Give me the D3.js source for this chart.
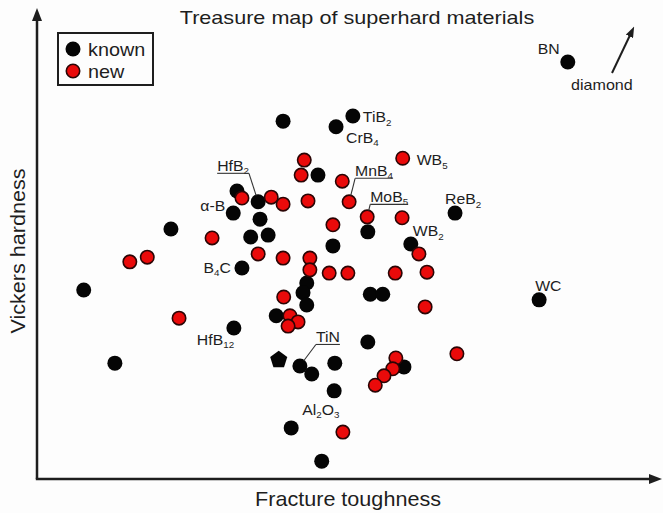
<!DOCTYPE html>
<html>
<head>
<meta charset="utf-8">
<script src="https://cdn.jsdelivr.net/npm/d3@7"></script>
<style>
body { margin: 0; background: #fdfdfd; }
svg { display: block; font-family: "Liberation Sans", Arial, sans-serif; }
</style>
</head>
<body>
<svg id="chart" width="663" height="513"></svg>
<script>
// values in arbitrary units (0-100 on both axes, no ticks in the original)
const knownX = [85.2, 50.7, 48.0, 39.5, 67.1, 80.6, 32.1, 35.5, 31.5, 35.8, 34.3, 37.1, 21.5, 45.1, 47.5, 53.1, 60.0, 32.9,
    43.3, 42.7, 43.3, 38.4, 53.5, 55.5, 7.5, 31.6, 12.5, 42.2, 44.1, 47.8, 53.1, 47.7, 40.8, 45.7, 58.9];
const knownY = [88.9, 77.4, 75.1, 76.3, 56.7, 38.2, 61.4, 59.1, 56.7, 55.4, 51.6, 52.0, 53.3, 64.8, 49.7, 52.7, 50.1, 45.0,
    41.8, 39.7, 37.1, 34.8, 39.4, 39.4, 40.3, 32.2, 24.7, 24.1, 22.4, 24.7, 29.2, 18.8, 10.9, 3.8, 23.9];
const newX = [58.7, 42.9, 42.4, 49.0, 50.1, 53.0, 58.6, 32.9, 37.6, 39.5, 43.5, 28.1, 14.9, 17.7, 35.5, 39.5, 43.8, 43.8,
    47.5, 46.9, 49.9, 57.5, 62.6, 61.3, 62.3, 39.6, 40.6, 41.9, 40.3, 22.8, 67.4, 57.6, 57.1, 55.7, 54.3, 49.1];
const newY = [68.4, 68.0, 64.8, 63.5, 59.1, 55.9, 55.7, 59.9, 60.1, 58.6, 59.3, 51.4, 46.3, 47.3, 48.0, 47.1, 47.1, 44.6,
    54.2, 43.9, 43.9, 43.9, 44.1, 48.0, 36.7, 38.8, 34.8, 33.5, 32.6, 34.3, 26.7, 25.8, 23.5, 22.0, 20.0, 10.0];
// the one pentagon marker (known)
const pentX = [38.8];
const pentY = [25.4];

// material names, {n} = subscript
const labelText = ["BN", "TiB{2}", "CrB{4}", "ReB{2}", "WC", "HfB{2}", "α-B", "WB{2}", "B{4}C", "HfB{12}", "TiN", "Al{2}O{3}", "WB{5}", "MnB{4}", "MoB{5}"];
const labelSeries = ["known", "known", "known", "known", "known", "known", "known", "known", "known", "known", "known", "known", "new", "new", "new"];
const labelIndex = [0, 1, 2, 4, 5, 7, 8, 16, 17, 25, 27, 31, 0, 4, 5];

// label placement (px offsets from the point), kept apart from the data
const labelLayout = {
    "BN": {dx: -30, dy: -8},
    "TiB{2}": {dx: 10, dy: 6},
    "CrB{4}": {dx: 10, dy: 16},
    "ReB{2}": {dx: -10, dy: -9},
    "WC": {dx: -4, dy: -9},
    "HfB{2}": {dx: -41, dy: -31, lead: "end"},
    "α-B": {dx: -8, dy: -2, anchor: "end"},
    "WB{2}": {dx: 2, dy: -8},
    "B{4}C": {dx: -11, dy: 5, anchor: "end"},
    "HfB{12}": {dx: -37, dy: 17},
    "TiN": {dx: 16, dy: -24, lead: "start"},
    "Al{2}O{3}": {dx: -32, dy: 24},
    "WB{5}": {dx: 14, dy: 7},
    "MnB{4}": {dx: 6, dy: -26, lead: "start"},
    "MoB{5}": {dx: 3, dy: -15, lead: "start"},
};

let width = 663, height = 513;
let svg = d3.select("#chart");
let ink = "#1e1e1e";

let x = d3.scaleLinear().domain([0, 100]).range([37, 660]);
let y = d3.scaleLinear().domain([0, 100]).range([479, 10]);

svg.append("rect").attr("width", width).attr("height", height).attr("fill", "#fdfdfd");

let defs = svg.append("defs");
function addHead(id, w, h) {
    defs.append("marker")
        .attr("id", id)
        .attr("markerUnits", "userSpaceOnUse")
        .attr("viewBox", `0 0 ${w} ${h}`)
        .attr("markerWidth", w).attr("markerHeight", h)
        .attr("refX", w - 5).attr("refY", h / 2)
        .attr("orient", "auto")
        .append("path")
        .attr("d", `M0,0L${w},${h / 2}L0,${h}Z`)
        .attr("fill", ink);
}
addHead("axhead", 13, 10);
addHead("smallhead", 11, 8);

// axes: plain arrows, no ticks
svg.append("line")
    .attr("x1", x(0)).attr("y1", y(0))
    .attr("x2", x(0)).attr("y2", 13)
    .attr("stroke", ink).attr("stroke-width", 2.5)
    .attr("marker-end", "url(#axhead)");
svg.append("line")
    .attr("x1", x(0) - 1.2).attr("y1", y(0))
    .attr("x2", 657).attr("y2", y(0))
    .attr("stroke", ink).attr("stroke-width", 2.5)
    .attr("marker-end", "url(#axhead)");

function addText(g, px, py, str, size, sx, anchor) {
    let outer = g.append("g").attr("transform", `translate(${px},${py})`);
    let t = outer.append("text")
        .attr("transform", `scale(${sx},1)`)
        .attr("font-size", size)
        .attr("fill", ink)
        .attr("text-anchor", anchor || "start");
    let parts = str.split(/(\{\d+\})/).filter(s => s);
    let down = false;
    let shift = size * 0.25;
    parts.forEach(p => {
        if (p[0] == "{") {
            t.append("tspan").attr("font-size", size * 0.62).attr("dy", down ? 0 : shift).text(p.slice(1, -1));
            down = true;
        } else {
            t.append("tspan").attr("dy", down ? -shift : 0).text(p);
            down = false;
        }
    });
    return outer;
}

// points
let r = 7.5;
svg.append("g").selectAll("circle")
    .data(d3.range(knownX.length))
    .join("circle")
    .attr("cx", i => x(knownX[i]))
    .attr("cy", i => y(knownY[i]))
    .attr("r", r)
    .attr("fill", "#050505");

let pent = d3.line();
svg.append("g").selectAll("path")
    .data(d3.range(pentX.length))
    .join("path")
    .attr("d", i => {
        let cx = x(pentX[i]), cy = y(pentY[i]);
        let pts = d3.range(5).map(k => {
            let a = -Math.PI / 2 + k * 2 * Math.PI / 5;
            return [cx + 9 * Math.cos(a), cy + 9 * Math.sin(a)];
        });
        return pent(pts) + "Z";
    })
    .attr("fill", "#050505");

svg.append("g").selectAll("circle")
    .data(d3.range(newX.length))
    .join("circle")
    .attr("cx", i => x(newX[i]))
    .attr("cy", i => y(newY[i]))
    .attr("r", 6.7)
    .attr("fill", "#ea0a0a")
    .attr("stroke", "#2a0505")
    .attr("stroke-width", 1.6);

// labels
let lg = svg.append("g");
labelText.forEach((name, k) => {
    let xs = labelSeries[k] == "known" ? knownX : newX;
    let ys = labelSeries[k] == "known" ? knownY : newY;
    let cx = x(xs[labelIndex[k]]), cy = y(ys[labelIndex[k]]);
    let lay = labelLayout[name];
    let px = cx + lay.dx, py = cy + lay.dy;
    let node = addText(lg, px, py, name, 14, 1.13, lay.anchor);
    if (lay.lead) {
        let bb = node.node().getBBox();
        let x0 = px + bb.x, x1 = px + bb.x + bb.width;
        let uy = py + 2.5;
        lg.append("line")
            .attr("x1", x0).attr("x2", x1).attr("y1", uy).attr("y2", uy)
            .attr("stroke", "#333").attr("stroke-width", 1.1);
        let sx = lay.lead == "end" ? x1 : x0;
        let ang = Math.atan2(uy - cy, sx - cx);
        lg.append("line")
            .attr("x1", sx).attr("y1", uy)
            .attr("x2", cx + (r - 1) * Math.cos(ang)).attr("y2", cy + (r - 1) * Math.sin(ang))
            .attr("stroke", "#333").attr("stroke-width", 1.1);
    }
});

// diamond is off the chart, shown as an arrow
svg.append("line")
    .attr("x1", 612).attr("y1", 73).attr("x2", 632).attr("y2", 31)
    .attr("stroke", ink).attr("stroke-width", 2)
    .attr("marker-end", "url(#smallhead)");
addText(svg, 571, 90, "diamond", 14, 1.15, "start");

// titles
addText(svg, 357, 24, "Treasure map of superhard materials", 18, 1.2, "middle");
addText(svg, 348, 506, "Fracture toughness", 20, 1.08, "middle");
let yt = svg.append("g").attr("transform", "translate(25,251) rotate(-90)");
addText(yt, 0, 0, "Vickers hardness", 20, 1.08, "middle");

// legend
let leg = svg.append("g");
leg.append("rect")
    .attr("x", 58).attr("y", 33).attr("width", 95).attr("height", 52)
    .attr("fill", "none").attr("stroke", ink).attr("stroke-width", 2);
leg.append("circle").attr("cx", 73).attr("cy", 49).attr("r", r).attr("fill", "#050505");
leg.append("circle").attr("cx", 73).attr("cy", 71).attr("r", 6.7)
    .attr("fill", "#ea0a0a").attr("stroke", "#2a0505").attr("stroke-width", 1.6);
addText(leg, 88, 56, "known", 18, 1.1, "start");
addText(leg, 88, 78, "new", 18, 1.1, "start");
</script>
</body>
</html>
